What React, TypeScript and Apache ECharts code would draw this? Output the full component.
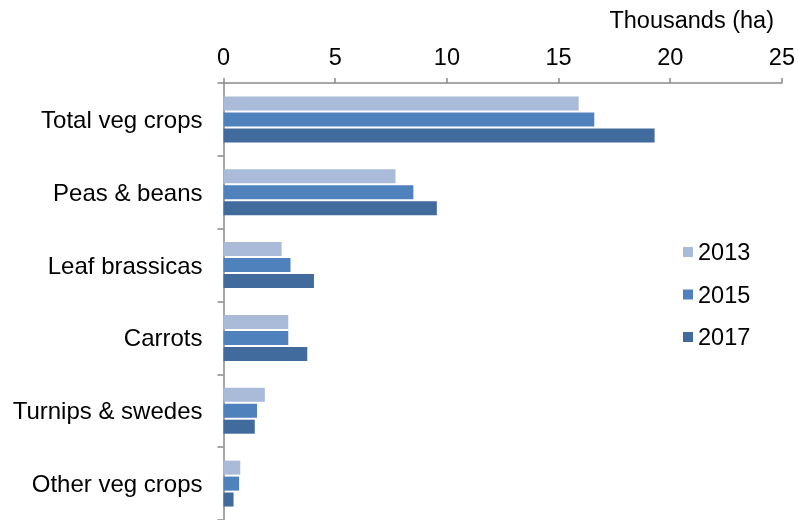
import React, { useEffect, useRef } from "react";
import * as echarts from "echarts";

const categories = [
  "Total veg crops",
  "Peas & beans",
  "Leaf brassicas",
  "Carrots",
  "Turnips & swedes",
  "Other veg crops",
];
const years = ["2013", "2015", "2017"];
const values2013 = [15.9, 7.7, 2.6, 2.9, 1.85, 0.75];
const values2015 = [16.6, 8.5, 3.0, 2.9, 1.5, 0.7];
const values2017 = [19.3, 9.55, 4.05, 3.75, 1.4, 0.45];
const colors = ["#aabad9", "#4f81bd", "#416b9c"];

const FONT = "'Liberation Sans', Arial, sans-serif";

export default function App() {
  const ref = useRef<HTMLDivElement>(null);

  useEffect(() => {
    if (!ref.current) return;
    const chart = echarts.init(ref.current, undefined, { renderer: "svg" });
    const seriesValues = [values2013, values2015, values2017];
    chart.setOption({
      animation: false,
      textStyle: { fontFamily: FONT },
      grid: { left: 223.5, right: 16, top: 83, bottom: 0 },
      graphic: [
        {
          type: "text",
          right: 24,
          top: 8,
          style: {
            text: "Thousands (ha)",
            font: `23.5px ${FONT}`,
            fill: "#000",
          },
        },
      ],
      legend: {
        orient: "vertical",
        left: 678,
        top: 235,
        itemWidth: 10,
        itemHeight: 10,
        itemGap: 18.5,
        icon: "rect",
        data: years,
        textStyle: { fontSize: 23.5, color: "#000", fontFamily: FONT },
      },
      xAxis: {
        type: "value",
        position: "top",
        min: 0,
        max: 25,
        interval: 5,
        axisLine: { show: true, lineStyle: { color: "#898989", width: 1.5 } },
        axisTick: { show: true, length: 5, lineStyle: { color: "#898989", width: 1.5 } },
        axisLabel: { fontSize: 23.5, color: "#000", margin: 14, fontFamily: FONT },
        splitLine: { show: false },
      },
      yAxis: {
        type: "category",
        inverse: true,
        data: categories,
        axisLine: { show: true, lineStyle: { color: "#898989", width: 1.5 } },
        axisTick: { show: true, length: 6, lineStyle: { color: "#898989", width: 1.5 } },
        axisLabel: { fontSize: 24, color: "#000", margin: 21, fontFamily: FONT },
      },
      series: years.map((y, i) => ({
        name: y,
        type: "bar",
        data: seriesValues[i],
        barWidth: 14,
        barGap: "14%",
        itemStyle: { color: colors[i] },
      })),
    });
    return () => chart.dispose();
  }, []);

  return (
    <div
      ref={ref}
      style={{ position: "fixed", left: 0, top: 0, width: 798, height: 520 }}
    />
  );
}
